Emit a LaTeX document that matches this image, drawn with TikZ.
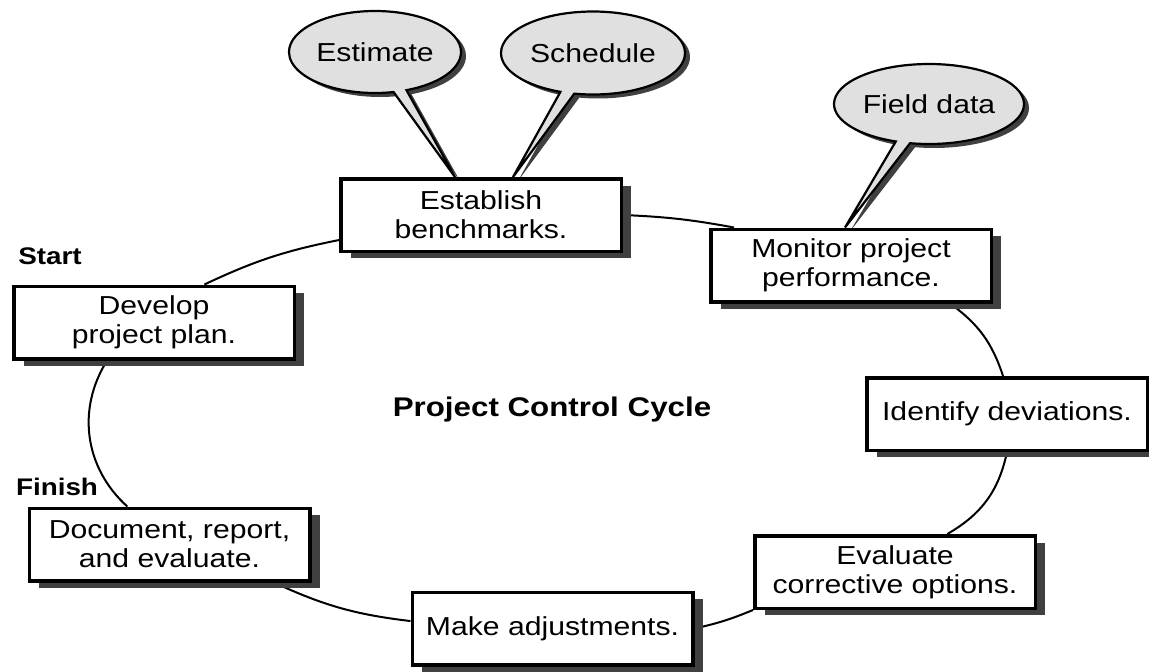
\documentclass[tikz,border=0pt]{standalone}
\usepackage{fontspec}
\setmainfont{Liberation Sans}[FakeStretch=1.16]
\usetikzlibrary{shapes.callouts,shadows,backgrounds}
\definecolor{boxshadow}{HTML}{404040}
\definecolor{bubblegray}{HTML}{E0E0E0}
\tikzset{
  cyclebox/.style={
    draw=black,
    fill=white,
    line width=3.5pt,
    minimum width=280.5pt,
    minimum height=72.5pt,
    align=center,
    inner sep=2pt,
    font=\fontsize{26}{29}\selectfont,
    drop shadow={shadow xshift=10pt, shadow yshift=-7pt, fill=boxshadow, opacity=1}
  },
  inputbubble/.style={
    ellipse callout,
    draw=black,
    fill=bubblegray,
    line width=2.2pt,
    inner sep=0pt,
    callout pointer arc=9,
    font=\fontsize{26}{29}\selectfont,
    drop shadow={shadow xshift=5pt, shadow yshift=-4pt, fill=boxshadow, opacity=1}
  },
  cyclelink/.style={draw=black, line width=2pt},
  stagelabel/.style={font=\fontsize{24}{28}\selectfont\bfseries}
}

\begin{document}
\begin{tikzpicture}[x=1pt, y=1pt]
\clip (0,0) rectangle (1149,-672);

% the seven steps of the cycle
\node[cyclebox] (bench) at (481,-215) {Establish\\benchmarks.};
\node[cyclebox] (monitor) at (851,-265.5) {Monitor project\\performance.};
\node[cyclebox] (identify) at (1007,-414) {Identify deviations.};
\node[cyclebox] (evaluate) at (895,-572) {Evaluate\\corrective options.};
\node[cyclebox] (adjust) at (552.5,-628.5) {Make adjustments.};
\node[cyclebox] (document) at (169.5,-544.5) {Document, report,\\and evaluate.};
\node[cyclebox] (develop) at (154,-322.5) {Develop\\project plan.};

\node[stagelabel] (start) at (50,-256) {Start};
\node[stagelabel] (finish) at (57,-487) {Finish};
\node[font=\fontsize{27}{30}\selectfont\bfseries] (title) at (552,-410) {Project Control Cycle};

\coordinate (esttip) at ([xshift=-26pt]bench.north);
\coordinate (schedtip) at ([xshift=32pt]bench.north);
\coordinate (fieldtip) at ([xshift=-6pt]monitor.north);

\begin{scope}[on background layer]
\node[inputbubble, minimum width=172pt, minimum height=82pt, callout absolute pointer=(esttip)] (estimate) at (375,-52) {Estimate};
\node[inputbubble, minimum width=184pt, minimum height=83pt, callout absolute pointer=(schedtip)] (schedule) at (593,-53) {Schedule};
\node[inputbubble, minimum width=190pt, minimum height=80pt, callout absolute pointer=(fieldtip)] (field) at (929,-104) {Field data};

\draw[cyclelink] (bench.190) to[bend right=7] (develop.37);
\draw[cyclelink] (bench.east) to[bend left=4] (monitor.162);
\draw[cyclelink] (monitor.339) to[bend left=18] (identify.96);
\draw[cyclelink] (identify.south) to[bend left=24] (evaluate.36);
\draw[cyclelink] (evaluate.south west) to[bend left=5] (adjust.east);
\draw[cyclelink] (adjust.177) to[bend left=9] (document.340);
\draw[cyclelink] (document.138) to[bend left=40] (develop.219);
\end{scope}
\end{tikzpicture}
\end{document}
